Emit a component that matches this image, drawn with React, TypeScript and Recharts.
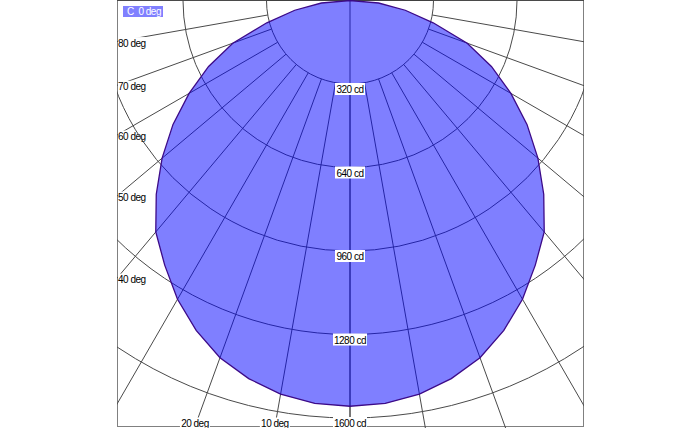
import React from 'react';
import { RadarChart, Radar, PolarGrid, PolarAngleAxis, PolarRadiusAxis } from 'recharts';

// luminous intensity, gamma from nadir (deg), same curve both sides of the C0 plane
const gammaDeg = [0, 5, 10, 15, 20, 25, 30, 35, 40, 45, 50, 55, 60, 65, 70, 75, 80, 85, 90];
const intensityCd = [1555, 1550, 1532, 1500, 1457, 1395, 1322, 1238, 1158, 1050, 940, 828, 712, 598, 478, 330, 215, 110, 0];

const ringTicks = [320, 640, 960, 1280, 1600];
const spokeTicks = [-90, -80, -70, -60, -50, -40, -30, -20, -10, 0, 10, 20, 30, 40, 50, 60, 70, 80, 90];
const labelledSpokes = [-80, -70, -60, -50, -40, -20, -10];

const radarData = [
  ...gammaDeg.slice(1).reverse().map((g, i) => ({ gamma: -g, cd: intensityCd[gammaDeg.length - 1 - i] })),
  ...gammaDeg.map((g, i) => ({ gamma: g, cd: intensityCd[i] })),
];

const FONT = "'Liberation Sans', Arial, sans-serif";
const W = 467;
const H = 428;
const CX = 233;
const CY = 0.5;
const PX_PER_CD = 417.5 / 1600;
const OUTER = 1600 * PX_PER_CD;
const INNER = 320 * PX_PER_CD;
const SPOKE_MAX = 2240;
const SPOKE_OUTER = SPOKE_MAX * PX_PER_CD;
const BOTTOM = 426.5;
const NO_MARGIN = { top: 0, right: 0, bottom: 0, left: 0 };
const labelText = { fontSize: 10, fontFamily: FONT, letterSpacing: -0.5, fill: '#000' };

const boxWidth = (s: string) => s.length * 4 + 6;

function RingLabel(props: any) {
  const { x, y, payload } = props;
  const text = `${payload.value} cd`;
  const w = boxWidth(text);
  return (
    <g>
      <rect x={x - w / 2} y={y - 1} width={w} height={12} fill="#fff" />
      <text x={x} y={y + 9} textAnchor="middle" style={labelText}>
        {text}
      </text>
    </g>
  );
}

// angle labels sit where the spoke leaves the frame (left side or bottom)
function SpokeLabel(props: any) {
  const g = props.payload?.value;
  if (!labelledSpokes.includes(g)) return null;
  const rad = (g * Math.PI) / 180;
  const dx = Math.sin(rad);
  const dy = Math.cos(rad);
  const tLeft = dx < 0 ? -CX / dx : Infinity;
  const tBottom = (BOTTOM - CY) / dy;
  const text = `${Math.abs(g)} deg`;
  const w = boxWidth(text);
  if (tLeft < tBottom) {
    const yi = CY + tLeft * dy;
    return (
      <g>
        <rect x={1} y={yi - 4.5} width={w} height={12} fill="#fff" />
        <text x={1} y={yi + 5} style={labelText}>
          {text}
        </text>
      </g>
    );
  }
  const xi = CX + tBottom * dx;
  return (
    <g>
      <rect x={xi - w / 2} y={BOTTOM - 9} width={w} height={12} fill="#fff" />
      <text x={xi} y={BOTTOM} textAnchor="middle" style={labelText}>
        {text}
      </text>
    </g>
  );
}

export default function App() {
  return (
    <div style={{ position: 'absolute', left: 0, top: 0, width: 700, height: 428, background: '#fff', overflow: 'hidden', fontFamily: FONT }}>
      <div
        style={{
          position: 'absolute', left: 117, top: 0, width: 467, height: 427, boxSizing: 'border-box',
          border: '1px solid #808080', borderTopColor: '#404040',
        }}
      />
      {/* spokes start at the 320 cd ring */}
      <div style={{ position: 'absolute', left: 117, top: 0 }}>
        <RadarChart
          width={W} height={H} data={radarData} cx={CX} cy={CY}
          innerRadius={INNER} outerRadius={SPOKE_OUTER} startAngle={-270} endAngle={90} margin={NO_MARGIN}
        >
          <PolarGrid gridType="circle" polarRadius={[]} stroke="#4a4a4a" />
          <PolarAngleAxis dataKey="gamma" type="number" domain={[-180, 180]} ticks={spokeTicks} axisLine={false} tickLine={false} tick={<SpokeLabel />} />
          <PolarRadiusAxis domain={[320, SPOKE_MAX]} allowDataOverflow tick={false} axisLine={false} />
        </RadarChart>
      </div>
      <div style={{ position: 'absolute', left: 117, top: 0 }}>
        <RadarChart
          width={W} height={H} data={radarData} cx={CX} cy={CY}
          innerRadius={0} outerRadius={OUTER} startAngle={-270} endAngle={90} margin={NO_MARGIN}
        >
          <PolarGrid gridType="circle" stroke="#4a4a4a" />
          <PolarAngleAxis dataKey="gamma" type="number" domain={[-180, 180]} ticks={[0]} axisLine={false} tickLine={false} tick={false} />
          <Radar dataKey="cd" fill="#0000ff" fillOpacity={0.5} stroke="#3c0a88" strokeWidth={1.3} isAnimationActive={false} />
          <PolarRadiusAxis angle={-90} domain={[0, 1600]} ticks={ringTicks} axisLine={false} tickLine={false} tick={<RingLabel />} />
        </RadarChart>
      </div>
      <div
        style={{
          position: 'absolute', left: 123, top: 6, width: 40, height: 11, background: '#8080ff', color: '#fff',
          fontSize: 10, letterSpacing: -0.5, lineHeight: '11px', display: 'flex', justifyContent: 'space-between',
          padding: '0 2px 0 4px', boxSizing: 'border-box', whiteSpace: 'nowrap',
        }}
      >
        <span>C</span>
        <span>0 deg</span>
      </div>
    </div>
  );
}
